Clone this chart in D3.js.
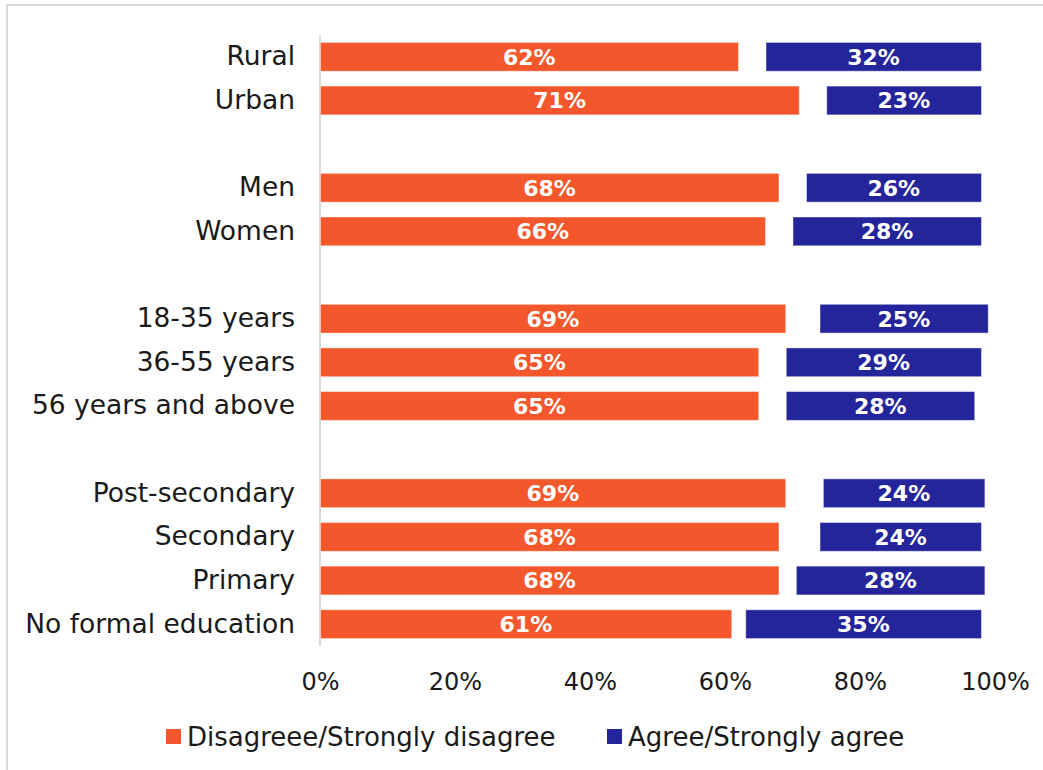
<!DOCTYPE html>
<html>
<head>
<meta charset="utf-8">
<script src="https://cdn.jsdelivr.net/npm/d3@7"></script>
<style>
  html, body { margin: 0; padding: 0; background: #fff; }
  svg { display: block; }
  text { font-family: "DejaVu Sans", sans-serif; }
</style>
</head>
<body>
<svg id="chart" width="1043" height="770"></svg>
<script>
// Row labels; empty strings are spacer rows between groups
const categories = ["Rural", "Urban", "", "Men", "Women", "", "18-35 years", "36-55 years",
  "56 years and above", "", "Post-secondary", "Secondary", "Primary", "No formal education"];

// Shares in percent (null = spacer row)
const disagree = [62, 71, null, 68, 66, null, 69, 65, 65, null, 69, 68, 68, 61];
const neither  = [4, 4, null, 4, 4, null, 5, 4, 4, null, 5.5, 6, 2.5, 2];   // unfilled middle share
const agree    = [32, 23, null, 26, 28, null, 25, 29, 28, null, 24, 24, 28, 35];

const xTicks = [0, 20, 40, 60, 80, 100];
const seriesNames = ["Disagreee/Strongly disagree", "Agree/Strongly agree"];
const seriesColors = ["#F4572B", "#25259B"];

const svg = d3.select("#chart");

// outer frame
svg.append("rect")
  .attr("x", 7).attr("y", 5).attr("width", 1100).attr("height", 800)
  .attr("fill", "none").attr("stroke", "#d9d9d9").attr("stroke-width", 2);

const x = d3.scaleLinear().domain([0, 100]).range([320, 995]);
const y = d3.scaleBand().domain(d3.range(categories.length)).range([35, 646])
  .paddingInner(0.34).paddingOuter(0.17);

// category axis
const yAxis = svg.append("g").attr("transform", `translate(${x(0)},0)`)
  .call(d3.axisLeft(y).tickSize(0).tickPadding(25).tickFormat(i => categories[i]));
yAxis.select(".domain").attr("stroke", "#d9d9d9").attr("stroke-width", 2)
  .attr("d", `M0,35V646`);
yAxis.selectAll("text").attr("font-size", 26.5).attr("fill", "#1a1a1a")
  .style("font-family", '"DejaVu Sans", sans-serif');

// value axis labels
const xAxis = svg.append("g").attr("transform", "translate(0,670)")
  .call(d3.axisBottom(x).tickValues(xTicks).tickSize(0).tickFormat(d => d + "%"));
xAxis.select(".domain").remove();
xAxis.selectAll("text").attr("font-size", 24).attr("fill", "#1a1a1a")
  .style("font-family", '"DejaVu Sans", sans-serif');

// bars
const rows = categories.map((c, i) => ({ i, c, d: disagree[i], n: neither[i], a: agree[i] }))
  .filter(r => r.d != null);

const segs = [];
rows.forEach(r => {
  segs.push({ i: r.i, x0: 0, x1: r.d, v: r.d, color: seriesColors[0] });
  const s = r.d + r.n;
  segs.push({ i: r.i, x0: s, x1: s + r.a, v: r.a, color: seriesColors[1] });
});

svg.append("g").selectAll("rect").data(segs).join("rect")
  .attr("x", d => x(d.x0) + 0.5)
  .attr("y", d => y(d.i))
  .attr("width", d => x(d.x1) - x(d.x0) - 0.5)
  .attr("height", y.bandwidth())
  .attr("fill", d => d.color)
  .attr("stroke", "rgba(255,255,255,0.45)")
  .attr("stroke-width", 1);

svg.append("g").selectAll("text").data(segs).join("text")
  .attr("x", d => (x(d.x0) + x(d.x1)) / 2)
  .attr("y", d => y(d.i) + y.bandwidth() / 2)
  .attr("dy", "0.36em")
  .attr("text-anchor", "middle")
  .attr("font-size", 22)
  .attr("font-weight", "bold")
  .attr("fill", "#fff")
  .text(d => d.v + "%");

// legend
const legendX = [166, 607];
const legend = svg.append("g").selectAll("g").data(seriesNames).join("g")
  .attr("transform", (d, i) => `translate(${legendX[i]},729)`);
legend.append("rect").attr("width", 15).attr("height", 15)
  .attr("fill", (d, i) => seriesColors[i]);
legend.append("text").attr("x", 21).attr("y", 7.5).attr("dy", "0.36em")
  .attr("font-size", 26).attr("fill", "#1a1a1a").text(d => d);
</script>
</body>
</html>
